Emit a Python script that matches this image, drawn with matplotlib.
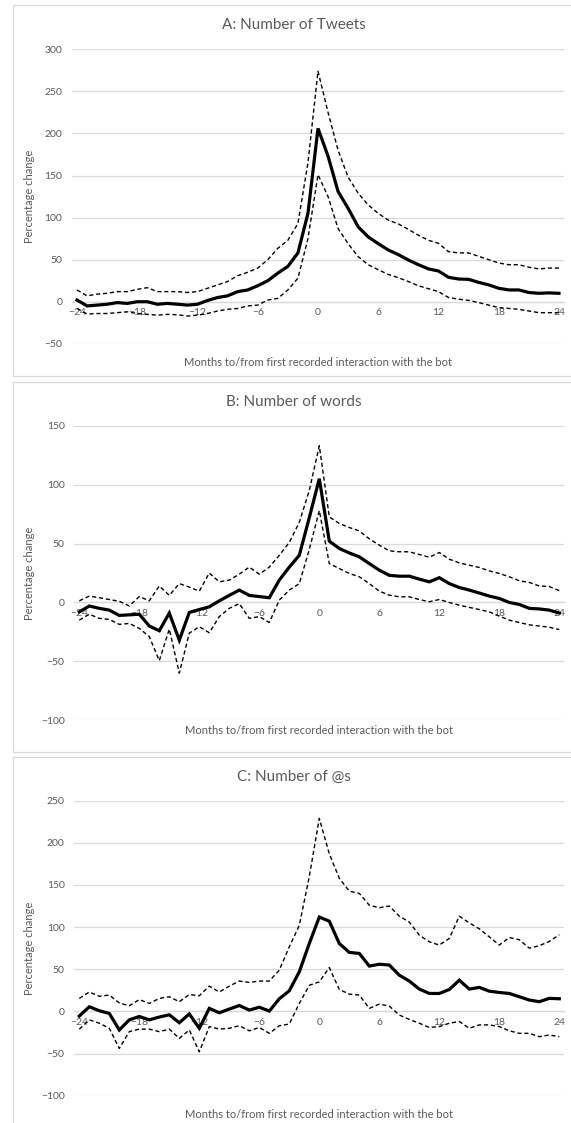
import matplotlib
matplotlib.use("Agg")
import matplotlib.pyplot as plt
from matplotlib.lines import Line2D
import numpy as np

plt.rcParams['font.family'] = ['Lato', 'DejaVu Sans']

months = np.arange(-24, 25)
xticks = [-24, -18, -12, -6, 0, 6, 12, 18, 24]

# A: number of tweets
tweets_mean = [2, -5, -4, -3, -1, -2, 0, 0, -3, -2, -3, -4, -3, 1.5, 5, 7, 12, 14, 19, 25, 34, 42, 58,
               105, 206, 173, 131, 111, 89, 77, 69, 61.5, 56, 49.6, 44, 39, 36.5, 29, 27, 26.6, 23, 20,
               16, 14, 14, 11, 10, 10.5, 10]
tweets_upper = [14, 7, 9, 10, 12, 12, 14.7, 16.7, 12, 12, 12, 11, 12, 16, 20, 24, 31, 35, 40, 50, 63.5, 73, 93,
                165, 274, 225, 180, 148, 129, 115, 105, 97, 92.5, 86, 79, 73, 69.4, 59.5, 58, 58, 54, 50,
                46, 44, 44, 41, 39, 40, 40]
tweets_lower = [-8, -14.7, -14, -14, -13, -12, -14, -15, -16, -15, -15.5, -17, -16, -14, -11, -9, -8, -5, -4, 2, 4, 14, 28,
                75, 151, 125, 87, 69, 53.6, 44, 38, 32.5, 28.6, 24, 19, 15.5, 12, 5, 3, 1.6, -1, -4,
                -7, -8, -9, -11, -13, -13, -13]

# B: number of words
words_mean = [-8, -3, -5, -6.5, -11, -10.5, -10, -20, -24, -9, -32, -8.5, -6, -3.7, 1.4, 6, 10.5, 6, 5, 4, 19, 30, 40,
              72, 105, 52, 45.8, 42, 38.7, 33, 27.4, 23, 22.3, 22.3, 19.8, 17.5, 21, 16, 12.7, 10.5, 8, 5.4,
              3.4, 0, -1.7, -5, -5.5, -6.5, -9]
words_upper = [1.4, 5.4, 4, 2.5, 1, -3, 5, 1.4, 14, 6, 16, 13, 9.6, 25, 17.5, 19, 24, 30, 24, 30, 40, 51, 68,
               95, 133, 72.6, 67, 63.6, 60.7, 54, 48.6, 43.8, 43, 43, 40.7, 38.4, 42.4, 36.7, 33.6, 31.6, 29.7, 26.8,
               24.6, 21.8, 18.4, 17, 14, 13.5, 10]
words_lower = [-15, -10, -13.5, -14.4, -18.6, -17.8, -22, -29, -49.4, -22.6, -60, -26, -20.6, -25.7, -12, -5, -1, -13.5, -12, -17, 2, 10.5, 16,
               45, 78, 33, 28.8, 24.6, 21.8, 16, 9.6, 6.2, 4.8, 4.8, 2.5, 0.6, 2.5, 0, -2.3, -4.2, -6, -8,
               -11.6, -15, -17, -19, -20, -21, -23]

# C: number of @s
ats_mean = [-5.5, 5.5, 0.8, -2.4, -22, -10, -6, -10, -6.7, -4, -13.4, -3, -20, 3.6, -1.6, 2.8, 7, 1.6, 5, 0.4, 15, 24.5, 47,
            80.6, 112, 107, 80.6, 70, 68.8, 53.8, 56, 55, 43, 36, 26.5, 21.3, 21.3, 26, 37, 26.5, 28.5, 24,
            22.5, 21.3, 17.4, 13.5, 11.5, 15.5, 15]
ats_upper = [15.4, 23, 18, 19.4, 10, 6.7, 14, 9.5, 15.4, 17.4, 11.5, 20, 18.6, 30, 23, 30, 36, 34.4, 36, 36, 49, 76.7, 102,
             160, 229, 187, 158, 142.7, 140, 126, 123, 125, 113, 106, 90.5, 82.6, 78.7, 86.6, 113, 105, 98, 88.5,
             78.7, 87.7, 85, 75, 78, 83, 91]
ats_lower = [-21, -10, -14, -20, -44, -24, -21, -21, -24, -21, -32, -22, -48, -18, -21, -20, -17, -23, -19, -26, -17, -15, 9.5,
             31, 35, 52, 26, 20.5, 19.4, 3.6, 8.7, 6.3, -4.3, -9.5, -14, -19, -18, -14, -12, -20, -16, -16,
             -18, -23, -26, -26, -30, -28, -30]

panels = [
    ("A: Number of Tweets", tweets_mean, tweets_upper, tweets_lower, (-50, 300), 50),
    ("B: Number of words", words_mean, words_upper, words_lower, (-100, 150), 50),
    ("C: Number of @s", ats_mean, ats_upper, ats_lower, (-100, 250), 50),
]

W, H = 571, 1123
fig = plt.figure(figsize=(W / 100, H / 100), dpi=100)
fig.patch.set_facecolor('white')

# axes boxes in pixels: left, right, top, bottom
boxes = [(72, 564, 49.3, 343.8), (74.3, 564.3, 425.7, 720.3), (74.3, 564.3, 800.7, 1095.7)]
# chart area borders (top, bottom) in pixels
frames = [(5, 376), (382, 752), (757, 1123)]
title_y = [25, 402, 776.7]
xlabel_y = [362.7, 730, 1115]

grid_c = '#d9d9d9'
text_c = '#595959'

for (title, mean, upper, lower, ylim, step), (l, r, t, b), (ft, fb), ty, xy in zip(
        panels, boxes, frames, title_y, xlabel_y):
    ax = fig.add_axes([l / W, 1 - b / H, (r - l) / W, (b - t) / H])
    ax.plot(months, upper, color='black', lw=1.0, ls=(0, (3, 2)), zorder=3)
    ax.plot(months, lower, color='black', lw=1.0, ls=(0, (3, 2)), zorder=3)
    ax.plot(months, mean, color='black', lw=2.3, solid_joinstyle='miter', zorder=4)
    ax.set_xlim(-24.5, 24.5)
    ax.set_ylim(*ylim)
    ax.set_yticks(np.arange(ylim[0], ylim[1] + 1, step))
    ax.set_xticks(xticks)
    ax.yaxis.grid(True, color=grid_c, lw=0.9)
    ax.set_axisbelow(True)
    for s in ['left', 'right', 'top']:
        ax.spines[s].set_visible(False)
    ax.spines['bottom'].set_position(('data', 0))
    ax.spines['bottom'].set_color(grid_c)
    ax.spines['bottom'].set_linewidth(0.9)
    ax.spines['bottom'].set_zorder(1)
    ax.tick_params(axis='both', length=0, labelsize=7.5, labelcolor=text_c)
    ax.tick_params(axis='x', pad=4.5)
    ax.tick_params(axis='y', pad=7)
    ax.set_ylabel("Percentage change", fontsize=8, color=text_c)
    ax.yaxis.set_label_coords((35 - l) / (r - l), 0.5)
    fig.text(0.5 * (l + r) / W, 1 - xy / H, "Months to/from first recorded interaction with the bot",
             ha='center', va='center', fontsize=8, color=text_c)
    fig.text(294 / W, 1 - ty / H, title, ha='center', va='center', fontsize=11, color=text_c)
    # chart area frame
    fig.add_artist(Line2D([12.7 / W, 12.7 / W], [1 - ft / H, 1 - fb / H], color=grid_c, lw=0.9))
    fig.add_artist(Line2D([12.7 / W, 1], [1 - ft / H, 1 - ft / H], color=grid_c, lw=0.9))
    if fb < H:
        fig.add_artist(Line2D([12.7 / W, 1], [1 - fb / H, 1 - fb / H], color=grid_c, lw=0.9))

fig.savefig("out.png", dpi=100, facecolor='white')
